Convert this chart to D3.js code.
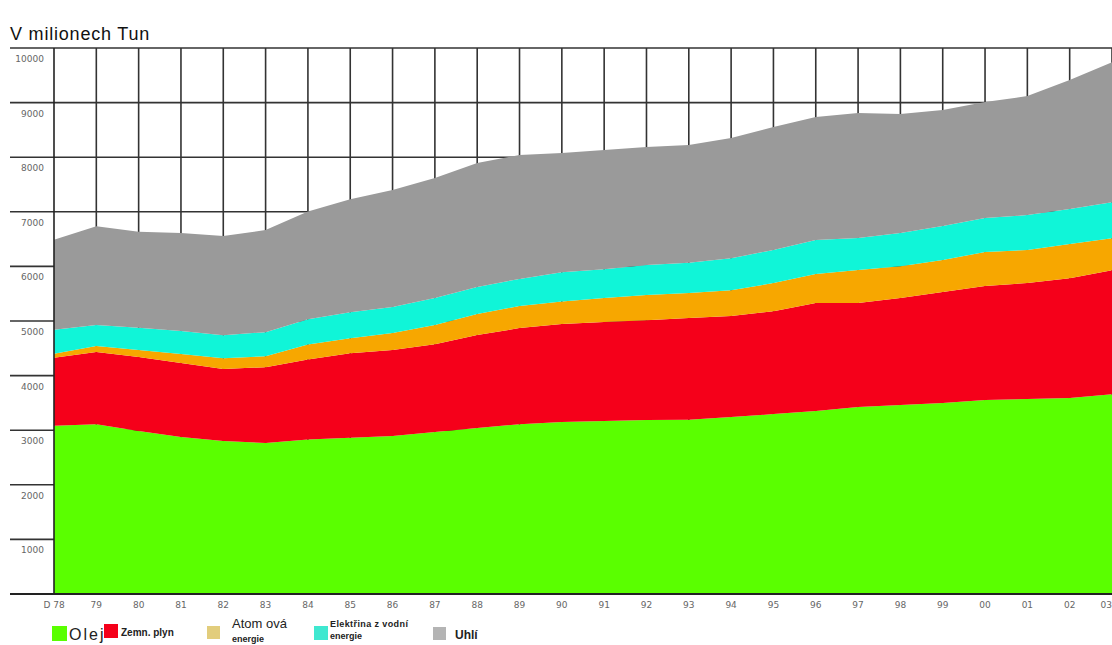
<!DOCTYPE html>
<html><head><meta charset="utf-8">
<script src="https://cdn.jsdelivr.net/npm/d3@7"></script>
<style>body{margin:0;background:#fff;}svg{display:block;}</style>
</head><body>
<svg id="c" width="1112" height="645"></svg>
<script>
const years = [1978,1979,1980,1981,1982,1983,1984,1985,1986,1987,1988,1989,1990,1991,1992,1993,1994,1995,1996,1997,1998,1999,2000,2001,2002,2003];
const xTickLabels = ["D 78","79","80","81","82","83","84","85","86","87","88","89","90","91","92","93","94","95","96","97","98","99","00","01","02","03"];
const yTicks = [1000,2000,3000,4000,5000,6000,7000,8000,9000,10000];
const olej   = [3080,3110,2985,2875,2800,2765,2830,2860,2895,2965,3040,3110,3150,3170,3185,3190,3240,3295,3350,3425,3460,3500,3555,3570,3590,3660];
const plyn   = [1245,1320,1355,1355,1320,1390,1465,1550,1575,1610,1705,1760,1795,1810,1830,1865,1850,1885,1980,1905,1960,2030,2085,2125,2195,2270];
const atom   = [75,110,130,165,200,200,275,275,310,350,385,405,410,440,460,460,475,515,530,605,585,585,625,605,625,585];
const voda   = [440,385,405,420,420,440,460,475,475,495,495,495,540,530,550,550,585,605,625,585,605,625,620,640,640,660];
const uhli   = [1650,1810,1760,1795,1815,1870,1975,2070,2145,2200,2270,2270,2180,2180,2160,2160,2200,2255,2250,2290,2180,2125,2125,2180,2365,2565];
const seriesNames = ["Olej","Zemn. plyn","Atomová energie","Elektřina z vodní energie","Uhlí"];
const colors = ["#5aff00","#f5001a","#f7a700","#10f5d8","#9a9a9a"];

const svg = d3.select("#c");
const L = 54, R = 1112, T = 48, B = 594;
const x = d3.scaleLinear().domain([1978,2003]).range([L,R]);
const y = d3.scaleLinear().domain([0,10000]).range([B,T]);

const table = years.map((yr,i)=>({year:yr, s0:olej[i], s1:plyn[i], s2:atom[i], s3:voda[i], s4:uhli[i]}));
const stack = d3.stack().keys(["s0","s1","s2","s3","s4"])(table);

// title
svg.append("text").attr("x",10).attr("y",40).attr("font-family","Liberation Sans, Arial, sans-serif")
  .attr("font-size",18).attr("letter-spacing",0.8).attr("fill","#111").text("V milionech Tun");

// grid
const g = svg.append("g");
g.selectAll("line.h").data(yTicks).join("line")
  .attr("x1",10).attr("x2",R).attr("y1",d=>y(d)).attr("y2",d=>y(d))
  .attr("stroke","#333").attr("stroke-width",1.6);
g.selectAll("line.v").data(years.slice(1)).join("line")
  .attr("x1",d=>x(d)).attr("x2",d=>x(d)).attr("y1",T).attr("y2",B)
  .attr("stroke","#333").attr("stroke-width",1.6);

// areas
const area = d3.area().x(d=>x(d.data.year)).y0(d=>y(d[0])).y1(d=>y(d[1])).curve(d3.curveLinear);
svg.append("g").selectAll("path").data(stack).join("path")
  .attr("d",area).attr("fill",(d,i)=>colors[i]);

// axes lines
svg.append("line").attr("x1",L).attr("x2",L).attr("y1",T).attr("y2",B).attr("stroke","#222").attr("stroke-width",1.6);
svg.append("line").attr("x1",10).attr("x2",R).attr("y1",B).attr("y2",B).attr("stroke","#222").attr("stroke-width",2);

// y labels
svg.append("g").selectAll("text").data(yTicks).join("text")
  .attr("x",44).attr("y",d=>y(d)+14).attr("text-anchor","end")
  .attr("font-family","DejaVu Sans, sans-serif").attr("font-size",9).attr("fill","#666")
  .text(d=>d);

// x labels
svg.append("g").selectAll("text").data(years).join("text")
  .attr("x",(d,i)=> i===years.length-1 ? R : x(d)).attr("y",608)
  .attr("text-anchor",(d,i)=> i===years.length-1 ? "end" : "middle")
  .attr("font-family","DejaVu Sans, sans-serif").attr("font-size",9).attr("fill","#666")
  .text((d,i)=>xTickLabels[i]);

// legend
const lg = svg.append("g").attr("font-family","Liberation Sans, Arial, sans-serif");
const sw = [
  {x:52,y:626,w:15,h:15,c:colors[0]},
  {x:104,y:624,w:14,h:14,c:colors[1]},
  {x:207,y:626,w:13,h:13,c:"#e2cd7c"},
  {x:314,y:626,w:14,h:14,c:"#3fe8d0"},
  {x:433,y:627,w:13,h:13,c:"#b4b4b4"}
];
lg.selectAll("rect").data(sw).join("rect").attr("x",d=>d.x).attr("y",d=>d.y).attr("width",d=>d.w).attr("height",d=>d.h).attr("fill",d=>d.c);
lg.append("text").attr("x",69).attr("y",640).attr("font-size",16).attr("letter-spacing",2).attr("fill","#222").text("Olej");
lg.append("text").attr("x",121).attr("y",636).attr("font-size",10).attr("font-weight","bold").attr("fill","#222").text("Zemn. plyn");
lg.append("text").attr("x",232).attr("y",628).attr("font-size",13).attr("fill","#222").text("Atom ová");
lg.append("text").attr("x",232).attr("y",642).attr("font-size",9).attr("font-weight","bold").attr("fill","#222").text("energie");
lg.append("text").attr("x",330).attr("y",627).attr("font-size",9).attr("font-weight","bold").attr("letter-spacing",0.4).attr("fill","#222").text("Elektřina  z vodní");
lg.append("text").attr("x",330).attr("y",639).attr("font-size",9).attr("font-weight","bold").attr("fill","#222").text("energie");
lg.append("text").attr("x",455).attr("y",639).attr("font-size",12).attr("font-weight","bold").attr("fill","#222").text("Uhlí");
</script>
</body></html>
